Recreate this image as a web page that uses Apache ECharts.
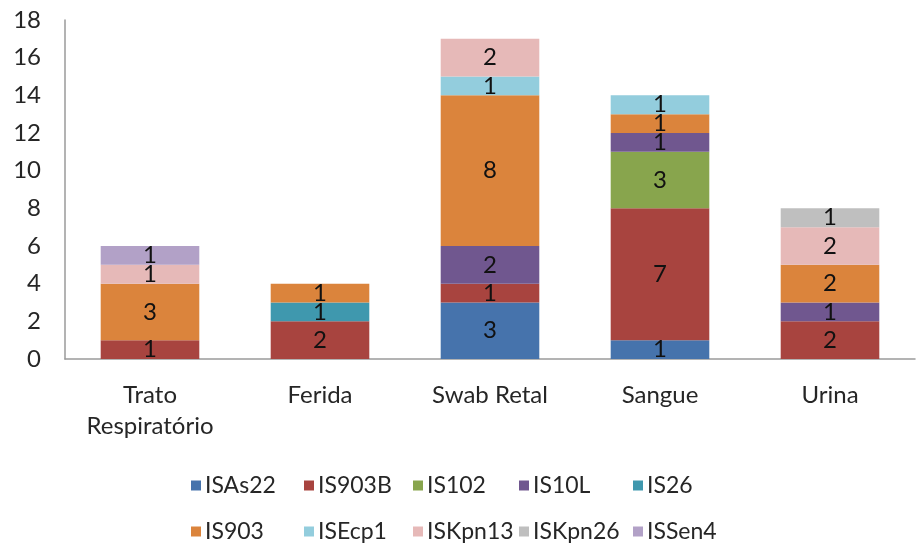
<!DOCTYPE html>
<html><head><meta charset="utf-8">
<script src="https://cdn.jsdelivr.net/npm/echarts@6/dist/echarts.min.js"></script>
<style>html,body{margin:0;padding:0;background:#fff}#c{width:916px;height:548px}</style>
</head><body><div id="c"></div>
<script>
const categories = ['Trato\nRespiratório', 'Ferida', 'Swab Retal', 'Sangue', 'Urina'];
const ISAs22  = [null, null, 3, 1, null];
const IS903B  = [1, 2, 1, 7, 2];
const IS102   = [null, null, null, 3, null];
const IS10L   = [null, null, 2, 1, 1];
const IS26    = [null, 1, null, null, null];
const IS903   = [3, 1, 8, 1, 2];
const ISEcp1  = [null, null, 1, 1, null];
const ISKpn13 = [1, null, 2, null, 2];
const ISKpn26 = [null, null, null, null, 1];
const ISSen4  = [1, null, null, null, null];
const yTicks = [0, 18, 2];

const seriesDefs = [
  ['ISAs22', ISAs22, '#4673AC'],
  ['IS903B', IS903B, '#A8443F'],
  ['IS102', IS102, '#88A54D'],
  ['IS10L', IS10L, '#70578F'],
  ['IS26', IS26, '#3F98AE'],
  ['IS903', IS903, '#DB843C'],
  ['ISEcp1', ISEcp1, '#93CDDD'],
  ['ISKpn13', ISKpn13, '#E6B9B8'],
  ['ISKpn26', ISKpn26, '#BFBFBF'],
  ['ISSen4', ISSen4, '#B2A1C7']
];
const font = 'Lato, "Open Sans", sans-serif';
const colX = [191, 304, 413, 519, 633];
const rowY = [474, 520];
const legends = seriesDefs.map((s, i) => ({
  left: colX[i % 5], top: rowY[Math.floor(i / 5)], padding: 0,
  itemWidth: 10, itemHeight: 10, icon: 'rect', itemGap: 0,
  data: [s[0]],
  textStyle: { fontFamily: font, fontSize: 23, color: '#262626', padding: [0, 0, 0, -1] }
}));

const chart = echarts.init(document.getElementById('c'));
chart.setOption({
  animation: false,
  grid: { left: 65, right: 1, top: 20, bottom: 189 },
  legend: legends,
  xAxis: {
    type: 'category', data: categories,
    axisLine: { lineStyle: { color: '#9a9a9a', width: 1.5 } },
    axisTick: { show: false },
    axisLabel: { fontFamily: font, fontSize: 24, color: '#262626', margin: 21, lineHeight: 31, interval: 0 }
  },
  yAxis: {
    type: 'value', min: yTicks[0], max: yTicks[1], interval: yTicks[2],
    splitLine: { show: false },
    axisLine: { show: true, lineStyle: { color: '#9a9a9a', width: 1.5 } },
    axisTick: { show: false },
    axisLabel: { fontFamily: font, fontSize: 24, color: '#262626', margin: 24 }
  },
  series: seriesDefs.map(([name, data, color]) => ({
    name, type: 'bar', stack: 'total', data, barWidth: '58%',
    itemStyle: { color },
    label: { show: true, position: 'inside', fontFamily: font, fontSize: 24, color: '#111' }
  }))
});
</script></body></html>
